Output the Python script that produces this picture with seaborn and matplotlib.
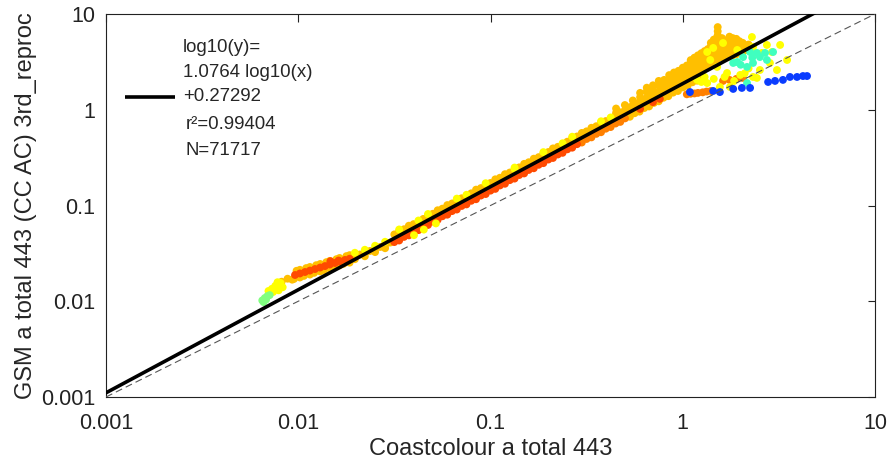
import matplotlib
matplotlib.use("Agg")
import numpy as np
import pandas as pd
import matplotlib.pyplot as plt
import seaborn as sns

# Fit statistics shown in the annotation
SLOPE = 1.0764
INTERCEPT = 0.27292
R2 = 0.99404
N_POINTS = 71717

xticks = [0.001, 0.01, 0.1, 1, 10]
xtick_labels = ["0.001", "0.01", "0.1", "1", "10"]
yticks = [0.001, 0.01, 0.1, 1, 10]
ytick_labels = ["0.001", "0.01", "0.1", "1", "10"]

# ---- matchup samples, grouped by colour class ----
amber_x = [
    # low-concentration tail
    0.0082, 0.0088, 0.0093, 0.0098, 0.0102, 0.011, 0.0115, 0.0124, 0.013, 0.014,
    0.0146, 0.0158, 0.0164, 0.0178, 0.0185,
    0.0095, 0.0102, 0.0107, 0.0115, 0.0121, 0.013, 0.0136, 0.0146, 0.0153,
    0.0164, 0.0172, 0.0185,
    0.0197, 0.0209, 0.0222, 0.0236, 0.0251, 0.0267, 0.0283, 0.0301, 0.0319,
    0.0197, 0.0222, 0.0251, 0.0283,
    # main band, above the fit
    0.0316, 0.0355, 0.0398, 0.0447, 0.0501, 0.0562, 0.0631, 0.0708, 0.0794,
    0.0891, 0.100, 0.112, 0.126, 0.141, 0.158, 0.178, 0.200, 0.224, 0.251,
    0.282, 0.316, 0.355, 0.398, 0.447, 0.501, 0.562, 0.631, 0.708, 0.794,
    0.891, 1.000, 1.122, 1.259,
    0.0335, 0.0376, 0.0473, 0.0531, 0.0596, 0.0668, 0.0841, 0.0944, 0.1059,
    0.1189, 0.1496, 0.1679, 0.1884, 0.2113, 0.2661, 0.2985, 0.3350, 0.3758,
    0.4732, 0.5309, 0.5957, 0.6683, 0.7499, 0.8414, 0.9441, 1.0593, 1.1885,
    # main band, on the fit
    0.316, 0.355, 0.398, 0.447, 0.501, 0.562, 0.631, 0.708, 0.794, 0.891,
    1.000, 1.122, 1.259,
    # main band, below the fit
    0.562, 0.631, 0.708, 0.794, 0.891, 1.000, 1.122, 1.259,
    0.5309, 0.5957, 0.6683, 0.7499, 0.8414, 0.9441, 1.0593, 1.1885,
    # high-absorption fan
    0.45, 0.45, 0.50, 0.50, 0.55, 0.55, 0.60, 0.60, 0.60, 0.65, 0.65, 0.65,
    0.70, 0.70, 0.70, 0.75, 0.75, 0.75, 0.80, 0.80, 0.80,
    0.85, 0.85, 0.85, 0.90, 0.90, 0.90, 0.90, 0.95, 0.95, 0.95,
    1.00, 1.00, 1.00, 1.00, 1.05, 1.05, 1.05, 1.10, 1.10, 1.10, 1.10,
    1.15, 1.15, 1.15, 1.15, 1.20, 1.20, 1.20, 1.20, 1.25, 1.25, 1.25, 1.25,
    1.30, 1.30, 1.30, 1.30, 1.35, 1.35, 1.35, 1.35,
    1.40, 1.40, 1.40, 1.40, 1.40, 1.45, 1.45, 1.45, 1.45, 1.45,
    1.50, 1.50, 1.50, 1.50, 1.50, 1.52, 1.52, 1.52,
    1.6, 1.6, 1.6, 1.6, 1.6, 1.68, 1.68, 1.68, 1.68,
    1.75, 1.75, 1.75, 1.75, 1.75, 1.82, 1.82, 1.82, 1.82,
    1.9, 1.9, 1.9, 1.9, 1.97, 1.97, 1.97, 2.05, 2.05, 2.05, 2.12, 2.12, 2.2, 2.2]
amber_y = [
    0.016, 0.0172, 0.0168, 0.0208, 0.0213, 0.0222, 0.0228, 0.0238, 0.0245, 0.0256,
    0.0264, 0.0275, 0.0283, 0.0296, 0.0303,
    0.0171, 0.0177, 0.0184, 0.019, 0.0198, 0.0205, 0.0212, 0.022, 0.0229,
    0.0237, 0.0246, 0.0253,
    0.0297, 0.0308, 0.0319, 0.0335, 0.0352, 0.0369, 0.0387, 0.041, 0.0436,
    0.0275, 0.0295, 0.0326, 0.0358,
    0.0499, 0.0565, 0.0639, 0.0724, 0.0819, 0.0927, 0.105, 0.119, 0.134,
    0.152, 0.172, 0.195, 0.221, 0.250, 0.283, 0.320, 0.362, 0.410, 0.464,
    0.526, 0.595, 0.673, 0.762, 0.863, 0.977, 1.106, 1.252, 1.417, 1.604,
    1.815, 2.055, 2.326, 2.633,
    0.0543, 0.0615, 0.0789, 0.0892, 0.1010, 0.1143, 0.1464, 0.1658, 0.1877,
    0.2124, 0.2722, 0.3082, 0.3488, 0.3947, 0.5058, 0.5726, 0.6481, 0.7334,
    0.9400, 1.0639, 1.2042, 1.3632, 1.5429, 1.7463, 1.9770, 2.2378, 2.5331,
    0.543, 0.615, 0.696, 0.787, 0.891, 1.009, 1.142, 1.293, 1.463, 1.656,
    1.875, 2.122, 2.402,
    0.920, 1.042, 1.179, 1.334, 1.510, 1.710, 1.935, 2.191,
    0.8449, 0.9563, 1.0826, 1.2252, 1.3868, 1.5699, 1.7771, 2.0116,
    0.93, 1.03, 0.98, 1.12, 1.10, 1.25, 1.18, 1.35, 1.50, 1.35, 1.55, 1.70,
    1.38, 1.58, 1.80, 1.55, 1.80, 2.0, 1.58, 1.82, 2.05,
    1.80, 2.05, 2.3, 1.75, 2.0, 2.3, 2.45, 2.0, 2.3, 2.55,
    1.95, 2.25, 2.55, 2.75, 2.25, 2.6, 2.9, 2.35, 2.7, 3.05, 3.3,
    2.5, 2.85, 3.2, 3.5, 2.55, 2.95, 3.35, 3.7, 2.75, 3.1, 3.5, 3.9,
    2.8, 3.2, 3.65, 4.1, 3.0, 3.4, 3.9, 4.3,
    3.0, 3.5, 4.0, 4.6, 5.0, 3.2, 3.7, 4.3, 4.9, 5.4,
    3.3, 3.8, 4.4, 5.0, 5.6, 6.0, 6.6, 7.3,
    3.5, 4.0, 4.6, 5.1, 5.6, 3.6, 4.1, 4.7, 5.3,
    3.6, 4.2, 4.8, 5.4, 5.8, 3.7, 4.4, 5.0, 5.6,
    3.8, 4.4, 4.9, 5.5, 4.0, 4.6, 5.2, 4.0, 4.5, 5.0, 4.2, 4.7, 4.3, 4.8]

yellow_x = [0.0070, 0.0073, 0.0074, 0.0076, 0.0077, 0.0078, 0.0080, 0.0081, 0.0083, 0.0079,
            0.0335, 0.0473, 0.0668, 0.0944, 0.1334, 0.1884, 0.2661, 0.3758,
            0.0422, 0.0750, 0.1334, 0.2371, 0.4217,
            0.0197, 0.0222, 0.0251, 0.0283,
            0.040, 0.045, 0.052,
            1.34, 1.44, 1.62, 1.92, 2.29, 2.32, 2.74, 3.21, 2.91, 2.58, 2.84, 3.49,
            3.09, 2.52, 2.32, 1.99, 1.70, 1.51, 1.39, 1.76, 1.56, 1.34, 1.19, 2.43,
            1.25, 1.45, 1.65, 1.85, 2.1, 2.2, 1.3]
yellow_y = [0.0128, 0.0135, 0.0125, 0.0145, 0.0137, 0.0158, 0.0150, 0.0155, 0.0140, 0.0130,
            0.0562, 0.0815, 0.118, 0.171, 0.249, 0.361, 0.523, 0.758,
            0.0697, 0.1294, 0.2406, 0.4469, 0.8307,
            0.0321, 0.0345, 0.038, 0.0418,
            0.049, 0.056, 0.065,
            4.01, 4.42, 4.98, 4.21, 5.75, 4.52, 4.75, 4.75, 4.01, 3.92, 3.08, 3.31,
            2.60, 2.60, 2.20, 2.31, 2.42, 2.80, 3.31, 1.73, 1.73, 1.90, 2.05, 2.15,
            1.95, 2.1, 2.2, 2.0, 2.4, 2.7, 2.2]

orange_x = [1.05, 1.1, 1.15, 1.2, 1.27, 1.33, 1.4,
            1.62, 1.75, 1.9, 2.05,
            0.316, 0.355, 0.398, 0.447, 0.501,
            0.2985, 0.3350, 0.3758, 0.4217, 0.4732]
orange_y = [1.45, 1.47, 1.48, 1.5, 1.52, 1.55, 1.57,
            2.0, 2.05, 2.1, 2.15,
            0.495, 0.560, 0.634, 0.718, 0.813,
            0.4547, 0.5146, 0.5824, 0.6597, 0.7465]

red_x = [0.00962, 0.0102, 0.01084, 0.0115, 0.01222, 0.013, 0.01377, 0.0146,
         0.01552, 0.0164, 0.0175, 0.0185, 0.0147, 0.0162,
         0.0316, 0.0355, 0.0398, 0.0447, 0.0501, 0.0562, 0.0631, 0.0708, 0.0794,
         0.0891, 0.100, 0.112, 0.126, 0.141, 0.158, 0.178, 0.200, 0.224, 0.251,
         0.282,
         0.0335, 0.0376, 0.0422, 0.0473, 0.0531, 0.0596, 0.0668, 0.0750, 0.0841,
         0.0944, 0.1059, 0.1189, 0.1334, 0.1496, 0.1679, 0.1884, 0.2113, 0.2371,
         0.2661,
         0.6, 0.7, 0.76]
red_y = [0.0188, 0.0195, 0.0202, 0.0209, 0.0217, 0.0225, 0.0233, 0.0242,
         0.0251, 0.026, 0.0270, 0.0278, 0.0262, 0.0266,
         0.0415, 0.0470, 0.0532, 0.0602, 0.0681, 0.0772, 0.0874, 0.0989, 0.112,
         0.127, 0.143, 0.162, 0.184, 0.208, 0.235, 0.266, 0.302, 0.341, 0.386,
         0.437,
         0.0431, 0.0488, 0.0553, 0.0626, 0.0708, 0.0802, 0.0908, 0.1027, 0.1163,
         0.1317, 0.1491, 0.1687, 0.1910, 0.2162, 0.2448, 0.2770, 0.3135, 0.3549,
         0.4017,
         1.02, 1.2, 1.3]

green_x = [0.0065, 0.0066, 0.0067, 0.0068, 0.0069, 0.0071]
green_y = [0.0102, 0.0098, 0.0108, 0.0104, 0.0113, 0.0116]

cyan_x = [1.83, 2.06, 2.24, 2.43, 2.68, 2.95, 2.32, 2.16, 1.92, 2.16, 2.52, 2.74,
          2.0, 2.3]
cyan_y = [3.08, 3.55, 4.01, 3.92, 3.92, 4.01, 3.08, 2.80, 3.15, 1.90, 3.55, 3.31,
          2.95, 3.5]

blue_x = [1.09, 1.44, 1.56, 1.83, 2.03, 2.24, 2.78, 3.02, 3.32, 3.61, 3.93, 4.22, 4.43]
blue_y = [1.53, 1.57, 1.53, 1.65, 1.69, 1.69, 1.95, 2.00, 2.05, 2.20, 2.20, 2.25, 2.25]

palette = {
    "amber": "#ffbf00",
    "orange": "#ff8000",
    "red": "#ff4a00",
    "yellow": "#ffff00",
    "green": "#80ff80",
    "cyan": "#40ffbf",
    "blue": "#0a3cff",
}

groups = [("amber", amber_x, amber_y), ("orange", orange_x, orange_y),
          ("red", red_x, red_y), ("yellow", yellow_x, yellow_y),
          ("green", green_x, green_y), ("cyan", cyan_x, cyan_y),
          ("blue", blue_x, blue_y)]
df = pd.concat([pd.DataFrame({"x": gx, "y": gy, "group": name})
                for name, gx, gy in groups], ignore_index=True)

sns.set_style("white")
plt.rcParams["font.family"] = ["Liberation Sans", "DejaVu Sans"]

fig = plt.figure(figsize=(8.88, 4.62), dpi=100)
ax = fig.add_axes([106 / 888, 1 - 397 / 462, 769 / 888, 383 / 462])

sns.scatterplot(data=df, x="x", y="y", hue="group", palette=palette, s=32,
                linewidth=0, legend=False, ax=ax, zorder=2)

ax.set_xscale("log")
ax.set_yscale("log")
ax.set_xlim(0.001, 10)
ax.set_ylim(0.001, 10)

# 1:1 reference line
ax.plot([0.001, 10], [0.001, 10], color="#555555", lw=0.8,
        dashes=(6.3, 3.6), zorder=3)

# regression line in log space
xr = np.logspace(-3, 1, 60)
ax.plot(xr, 10 ** INTERCEPT * xr ** SLOPE, color="black", lw=2.6, zorder=4)

ax.set_xticks(xticks)
ax.set_xticklabels(xtick_labels)
ax.set_yticks(yticks)
ax.set_yticklabels(ytick_labels)
ax.minorticks_off()
ax.tick_params(direction="in", length=5.4, width=0.8, top=True, right=True,
               labelsize=15.5, colors="#222222")
ax.tick_params(axis="x", pad=11.5)
ax.tick_params(axis="y", pad=7.5)
for sp in ax.spines.values():
    sp.set_color("#222222")
    sp.set_linewidth(0.8)

ax.set_xlabel("Coastcolour a total 443", fontsize=17, labelpad=3)
ax.set_ylabel("GSM a total 443 (CC AC) 3rd_reproc", fontsize=17, labelpad=3)

# annotation block with line key
ax.plot([0.0247, 0.0897], [0.7833, 0.7833], transform=ax.transAxes,
        color="black", lw=2.6, solid_capstyle="butt", zorder=5)
tx = 0.1001
fs = 13.4
ax.text(tx, 0.9138, "log10(y)=", transform=ax.transAxes, fontsize=fs, va="center")
ax.text(tx, 0.846, f"{SLOPE} log10(x)", transform=ax.transAxes, fontsize=fs, va="center")
ax.text(tx, 0.7833, f"+{INTERCEPT}", transform=ax.transAxes, fontsize=fs, va="center")
ax.text(tx + 0.004, 0.7102, f"r\u00b2={R2}", transform=ax.transAxes, fontsize=fs, va="center")
ax.text(tx + 0.003, 0.6449, f"N={N_POINTS}", transform=ax.transAxes, fontsize=fs, va="center")

fig.savefig("out.png", dpi=100)
